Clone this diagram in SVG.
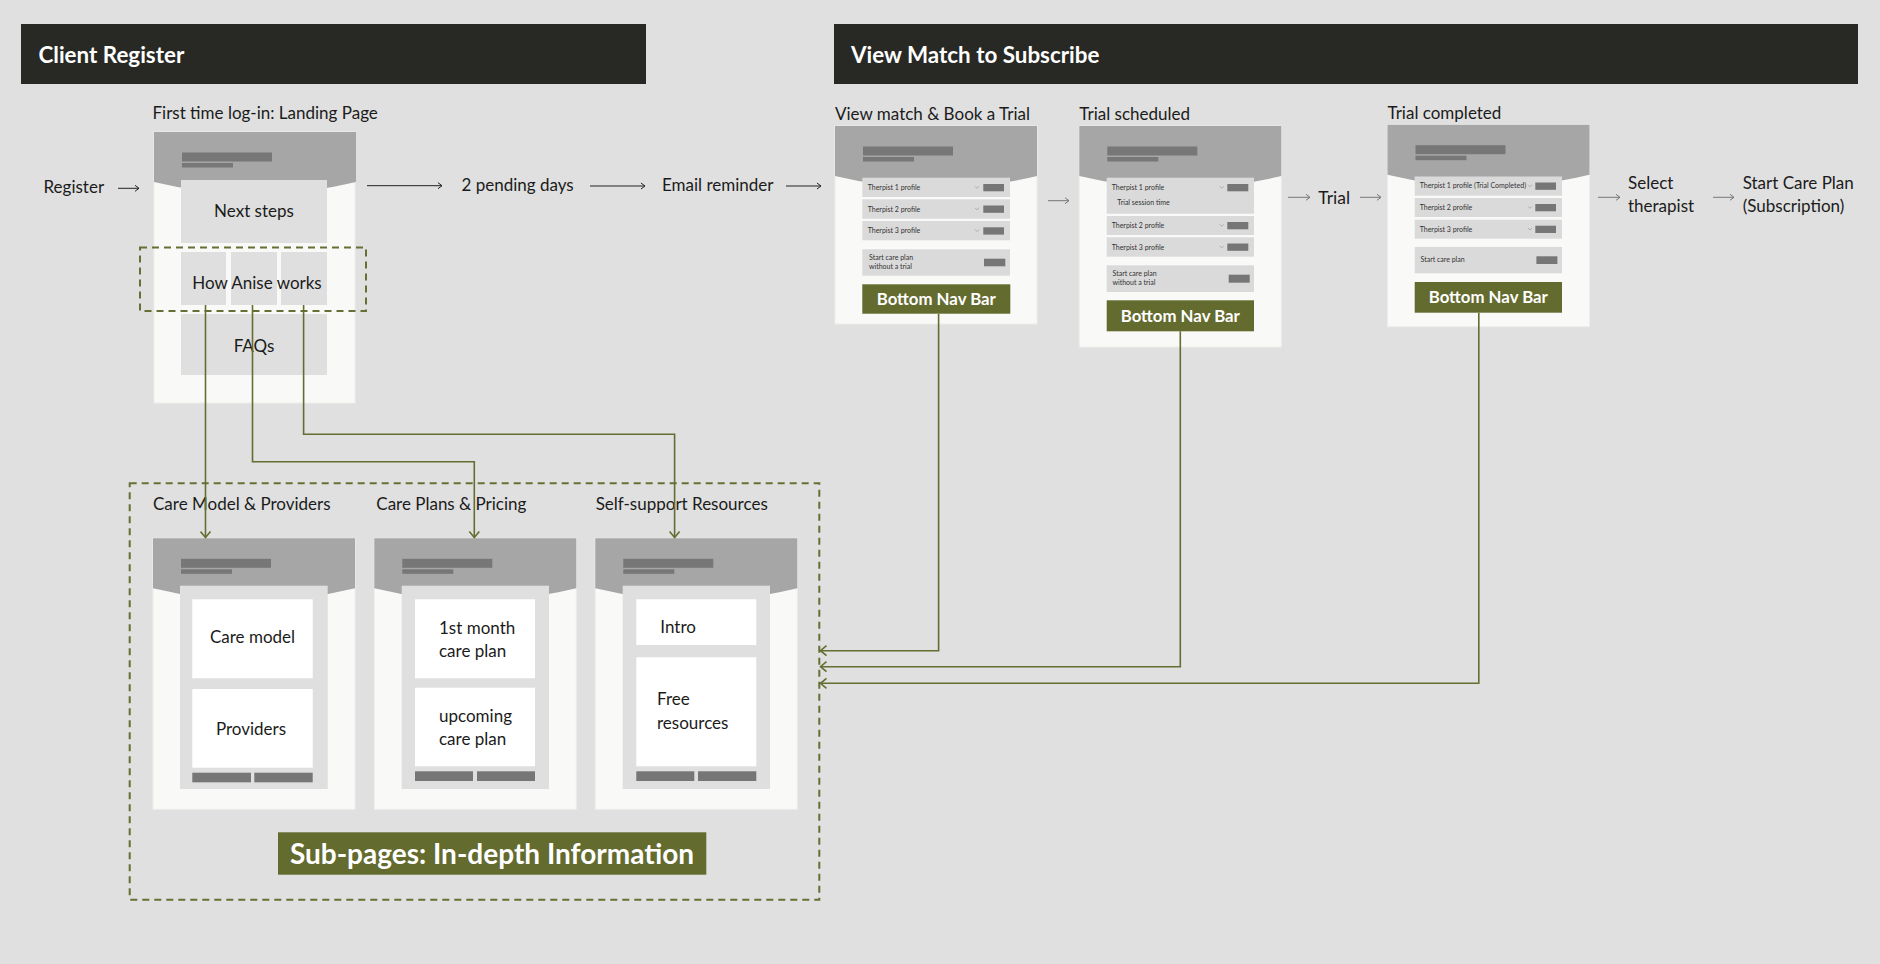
<svg xmlns="http://www.w3.org/2000/svg" xmlns:xlink="http://www.w3.org/1999/xlink" width="1880" height="964" viewBox="0 0 1880 964">
<style>
text{font-family:Lato,"Open Sans","Liberation Sans",sans-serif;fill:#1b1b1b}
.hd{fill:#282925}
.hdt{fill:#ffffff;font-weight:bold;font-size:22.4px}
.lbl{font-size:17px}
.flow{font-size:17px}
.pbody{fill:#f9f9f7;stroke:#ededeb;stroke-width:1}
.ptop{fill:#a6a6a6}
.bar{fill:#777777}
.card{fill:#dfdfdf}
.row{fill:#dadada}
.wbox{fill:#ffffff}
.btn{fill:#767676}
.nav{fill:#636b2f}
.navt{fill:#ffffff;font-weight:bold;font-size:16.8px}
.tiny{font-size:7px;fill:#333333}
.box{font-size:17px}
.chev{fill:none;stroke:#999999;stroke-width:0.7}
.dash{fill:none;stroke:#676f34;stroke-width:2;stroke-dasharray:7 5}
.conn{fill:none;stroke:#656d31;stroke-width:1.6}
.tarr{fill:none;stroke:#222222;stroke-width:1}
.garr{fill:none;stroke:#777777;stroke-width:1}
</style>
<defs>
<marker id="ah" markerUnits="userSpaceOnUse" markerWidth="12" markerHeight="12" refX="7" refY="6" orient="auto">
<path d="M1,1 L7,6 L1,11" fill="none" stroke="#656d31" stroke-width="1.6"/>
</marker>
<marker id="th" markerUnits="userSpaceOnUse" markerWidth="8" markerHeight="8" refX="5" refY="4" orient="auto">
<path d="M1,1 L5,4 L1,7" fill="none" stroke="#222222" stroke-width="1"/>
</marker>
<marker id="gh" markerUnits="userSpaceOnUse" markerWidth="8" markerHeight="8" refX="5" refY="4" orient="auto">
<path d="M1,1 L5,4 L1,7" fill="none" stroke="#777777" stroke-width="1"/>
</marker>
<g id="phoneTop">
<path class="ptop" d="M0,0 H202 V50 Q101,74.6 0,50 Z"/>
<rect class="bar" x="28" y="20.5" width="90" height="9"/>
<rect class="bar" x="28" y="31" width="51" height="4.5"/>
</g>
<path id="chevron" class="chev" d="M-2,-1.2 L0,0.8 L2,-1.2"/>
</defs>
<rect x="0" y="0" width="1880" height="964" fill="#e0e0e0"/>

<g id="header-client-register">
<rect class="hd" x="21" y="24" width="625" height="60"/>
<text class="hdt" x="38.5" y="62.5">Client Register</text>
</g>
<g id="header-view-match">
<rect class="hd" x="834" y="24" width="1024" height="60"/>
<text class="hdt" x="851" y="62.5">View Match to Subscribe</text>
</g>

<g id="register">
<text class="flow" x="43.5" y="193">Register</text>
</g>

<g id="landing-page">
<text class="lbl" x="152.5" y="119">First time log-in: Landing Page</text>
<rect class="pbody" x="154" y="132" width="201" height="271"/>
<use xlink:href="#phoneTop" x="154" y="132"/>
<rect class="card" x="181" y="180" width="146" height="63"/>
<text class="box" x="254" y="217" text-anchor="middle">Next steps</text>
<rect class="card" x="181" y="252" width="45" height="53"/>
<rect class="card" x="231" y="252" width="46" height="53"/>
<rect class="card" x="281" y="252" width="46" height="53"/>
<text class="box" x="257" y="289" text-anchor="middle">How Anise works</text>
<rect class="card" x="181" y="314" width="146" height="61"/>
<text class="box" x="254" y="352" text-anchor="middle">FAQs</text>
<rect class="dash" x="140" y="247.5" width="226" height="63.5"/>
</g>

<g id="pending-days"><text class="flow" x="461.5" y="190.5">2 pending days</text></g>
<g id="email-reminder"><text class="flow" x="662" y="190.5">Email reminder</text></g>

<g id="view-match">
<text class="lbl" x="835" y="120">View match &amp; Book a Trial</text>
<rect class="pbody" x="835" y="126" width="202" height="198"/>
<use xlink:href="#phoneTop" x="835" y="126"/>
<rect class="row" x="862.3" y="177.7" width="147.7" height="19.3"/>
<text class="tiny" x="867.7" y="190">Therpist 1 profile</text>
<use xlink:href="#chevron" x="977" y="187.5"/>
<rect class="btn" x="983.3" y="184" width="20.7" height="7.3"/>
<rect class="row" x="862.3" y="199.3" width="147.7" height="19.4"/>
<text class="tiny" x="867.7" y="211.5">Therpist 2 profile</text>
<use xlink:href="#chevron" x="977" y="209"/>
<rect class="btn" x="983.3" y="205.5" width="20.7" height="7.3"/>
<rect class="row" x="862.3" y="221" width="147.7" height="19.3"/>
<text class="tiny" x="867.7" y="233.3">Therpist 3 profile</text>
<use xlink:href="#chevron" x="977" y="230.7"/>
<rect class="btn" x="983.3" y="227.3" width="20.7" height="7.3"/>
<rect class="row" x="862.3" y="249.3" width="147.7" height="26.4"/>
<text class="tiny" x="869" y="260">Start care plan</text>
<text class="tiny" x="869" y="269">without a trial</text>
<rect class="btn" x="984" y="258.7" width="21.3" height="7.6"/>
<rect class="nav" x="862.3" y="284.3" width="148" height="29.4"/>
<text class="navt" x="936.3" y="305" text-anchor="middle">Bottom Nav Bar</text>
</g>

<g id="trial-scheduled">
<text class="lbl" x="1079.3" y="120">Trial scheduled</text>
<rect class="pbody" x="1079.3" y="126" width="202" height="221"/>
<use xlink:href="#phoneTop" x="1079.3" y="126"/>
<rect class="row" x="1106.7" y="177.7" width="147.3" height="36"/>
<text class="tiny" x="1111.7" y="190">Therpist 1 profile</text>
<text class="tiny" x="1117.3" y="204.7">Trial session time</text>
<use xlink:href="#chevron" x="1221.7" y="187.5"/>
<rect class="btn" x="1227.3" y="184" width="21" height="7.3"/>
<rect class="row" x="1106.7" y="216" width="147.3" height="19"/>
<text class="tiny" x="1111.7" y="228">Therpist 2 profile</text>
<use xlink:href="#chevron" x="1221.7" y="225.5"/>
<rect class="btn" x="1227.3" y="222" width="21" height="7.3"/>
<rect class="row" x="1106.7" y="237.3" width="147.3" height="19.4"/>
<text class="tiny" x="1111.7" y="249.7">Therpist 3 profile</text>
<use xlink:href="#chevron" x="1221.7" y="247"/>
<rect class="btn" x="1227.3" y="243.5" width="21" height="7.3"/>
<rect class="row" x="1106.7" y="265.3" width="147.3" height="26.7"/>
<text class="tiny" x="1112.5" y="276">Start care plan</text>
<text class="tiny" x="1112.5" y="285">without a trial</text>
<rect class="btn" x="1228.7" y="274.7" width="21" height="8"/>
<rect class="nav" x="1106.7" y="300.3" width="147.3" height="31"/>
<text class="navt" x="1180.3" y="321.7" text-anchor="middle">Bottom Nav Bar</text>
</g>

<g id="trial"><text class="flow" x="1318.3" y="204" style="font-size:17.5px">Trial</text></g>

<g id="trial-completed">
<text class="lbl" x="1387.5" y="119.3">Trial completed</text>
<rect class="pbody" x="1387.5" y="124.7" width="202" height="202"/>
<use xlink:href="#phoneTop" x="1387.5" y="124.7"/>
<rect class="row" x="1414.7" y="176.5" width="147.3" height="19.2"/>
<text class="tiny" x="1419.7" y="188.3">Therpist 1 profile (Trial Completed)</text>
<use xlink:href="#chevron" x="1530" y="186"/>
<rect class="btn" x="1535.3" y="182.5" width="20.7" height="7.3"/>
<rect class="row" x="1414.7" y="198" width="147.3" height="19"/>
<text class="tiny" x="1419.7" y="210">Therpist 2 profile</text>
<use xlink:href="#chevron" x="1530" y="207.5"/>
<rect class="btn" x="1535.3" y="204" width="20.7" height="7.3"/>
<rect class="row" x="1414.7" y="219.7" width="147.3" height="19"/>
<text class="tiny" x="1419.7" y="231.7">Therpist 3 profile</text>
<use xlink:href="#chevron" x="1530" y="229.2"/>
<rect class="btn" x="1535.3" y="225.7" width="20.7" height="7.3"/>
<rect class="row" x="1414.7" y="247" width="147.3" height="26.3"/>
<text class="tiny" x="1420.5" y="262.3">Start care plan</text>
<rect class="btn" x="1536.4" y="256.3" width="21" height="7.7"/>
<rect class="nav" x="1414.7" y="282" width="147.3" height="30.7"/>
<text class="navt" x="1488.3" y="303.3" text-anchor="middle">Bottom Nav Bar</text>
</g>

<g id="select-therapist">
<text class="flow" x="1628" y="188.7">Select</text>
<text class="flow" x="1628" y="211.7">therapist</text>
</g>
<g id="start-care-plan">
<text class="flow" x="1742.7" y="188.7">Start Care Plan</text>
<text class="flow" x="1742.7" y="211.7">(Subscription)</text>
</g>

<g id="sub-pages">
<rect class="dash" x="129.7" y="483.3" width="689.6" height="416.4"/>
<rect class="nav" x="278" y="832.3" width="428.3" height="42.4"/>
<text x="492" y="863.5" text-anchor="middle" style="fill:#ffffff;font-weight:bold;font-size:28px">Sub-pages: In-depth Information</text>
</g>

<g id="care-model-providers">
<text class="lbl" x="153" y="510">Care Model &amp; Providers</text>
<rect class="pbody" x="153" y="538.3" width="202" height="271"/>
<use xlink:href="#phoneTop" x="153" y="538.3"/>
<rect class="card" x="180" y="585.7" width="147.7" height="203.3"/>
<rect class="wbox" x="192.3" y="599.3" width="120.4" height="79"/>
<text class="box" x="252.5" y="642.7" text-anchor="middle">Care model</text>
<rect class="wbox" x="192.3" y="689" width="120.4" height="78.7"/>
<text class="box" x="251" y="735" text-anchor="middle">Providers</text>
<rect class="btn" x="192.3" y="772.7" width="58.7" height="9.6"/>
<rect class="btn" x="254.3" y="772.7" width="58.4" height="9.6"/>
</g>

<g id="care-plans-pricing">
<text class="lbl" x="376.3" y="510">Care Plans &amp; Pricing</text>
<rect class="pbody" x="374.3" y="538.3" width="202" height="271"/>
<use xlink:href="#phoneTop" x="374.3" y="538.3"/>
<rect class="card" x="401.7" y="585.7" width="147.3" height="203.3"/>
<rect class="wbox" x="415" y="599.3" width="120" height="79"/>
<text class="box" x="439" y="633.7">1st month</text>
<text class="box" x="439" y="657.3">care plan</text>
<rect class="wbox" x="415" y="687.7" width="120" height="78.6"/>
<text class="box" x="439" y="721.7">upcoming</text>
<text class="box" x="439" y="745.3">care plan</text>
<rect class="btn" x="415" y="771.3" width="58" height="9.7"/>
<rect class="btn" x="477" y="771.3" width="58" height="9.7"/>
</g>

<g id="self-support-resources">
<text class="lbl" x="595.7" y="510">Self-support Resources</text>
<rect class="pbody" x="595.3" y="538.3" width="202" height="271"/>
<use xlink:href="#phoneTop" x="595.3" y="538.3"/>
<rect class="card" x="622.7" y="585.7" width="147.3" height="203.3"/>
<rect class="wbox" x="636.3" y="599.3" width="120" height="45.7"/>
<text class="box" x="660.3" y="633.3">Intro</text>
<rect class="wbox" x="636.3" y="657.3" width="120" height="109"/>
<text class="box" x="657" y="705.3">Free</text>
<text class="box" x="657" y="729">resources</text>
<rect class="btn" x="636.3" y="771.3" width="58" height="9.7"/>
<rect class="btn" x="698" y="771.3" width="58.3" height="9.7"/>
</g>

<g id="connectors">
<line class="tarr" x1="118" y1="188.3" x2="139" y2="188.3" marker-end="url(#th)"/>
<line class="tarr" x1="367" y1="185.7" x2="442" y2="185.7" marker-end="url(#th)"/>
<line class="tarr" x1="590" y1="186" x2="645" y2="186" marker-end="url(#th)"/>
<line class="tarr" x1="786" y1="186" x2="821" y2="186" marker-end="url(#th)"/>
<line class="garr" x1="1048" y1="200.7" x2="1069" y2="200.7" marker-end="url(#gh)"/>
<line class="garr" x1="1288" y1="197.3" x2="1310" y2="197.3" marker-end="url(#gh)"/>
<line class="garr" x1="1360" y1="197.3" x2="1381" y2="197.3" marker-end="url(#gh)"/>
<line class="garr" x1="1598" y1="197.3" x2="1620" y2="197.3" marker-end="url(#gh)"/>
<line class="garr" x1="1713" y1="197.3" x2="1734" y2="197.3" marker-end="url(#gh)"/>
<polyline class="conn" points="205.5,305 205.5,537.5" marker-end="url(#ah)"/>
<polyline class="conn" points="252.5,305 252.5,461.7 474.3,461.7 474.3,537.5" marker-end="url(#ah)"/>
<polyline class="conn" points="303.6,305 303.6,434.3 674.6,434.3 674.6,537.5" marker-end="url(#ah)"/>
<polyline class="conn" points="938.6,313.7 938.6,650.7 820.5,650.7" marker-end="url(#ah)"/>
<polyline class="conn" points="1180.3,331.3 1180.3,666.7 820.5,666.7" marker-end="url(#ah)"/>
<polyline class="conn" points="1478.8,312.7 1478.8,683.3 820.5,683.3" marker-end="url(#ah)"/>
</g>
</svg>
